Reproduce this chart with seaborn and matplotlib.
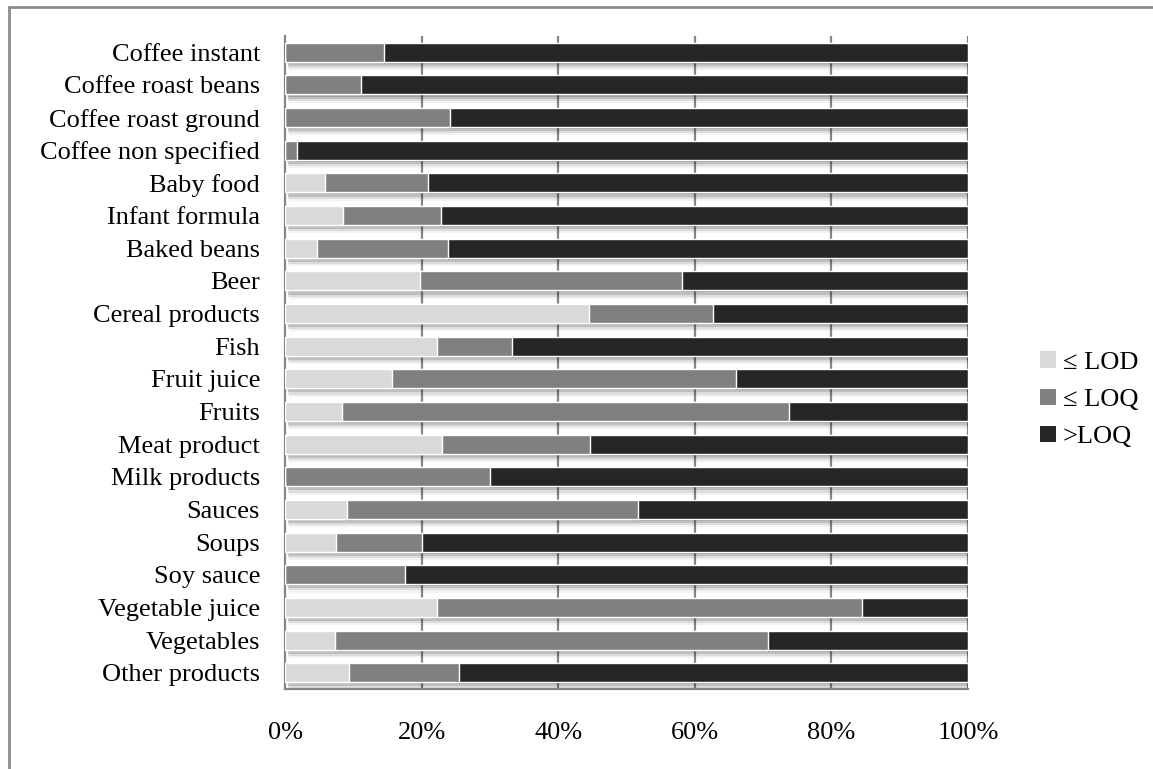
import matplotlib
matplotlib.use("Agg")
import matplotlib.pyplot as plt
import matplotlib.patheffects as pe
from matplotlib.lines import Line2D
from matplotlib.patches import Patch
import numpy as np
import pandas as pd
import seaborn as sns

categories = [
    "Coffee instant", "Coffee roast beans", "Coffee roast ground",
    "Coffee non specified", "Baby food", "Infant formula", "Baked beans",
    "Beer", "Cereal products", "Fish", "Fruit juice", "Fruits",
    "Meat product", "Milk products", "Sauces", "Soups", "Soy sauce",
    "Vegetable juice", "Vegetables", "Other products",
]
# share of samples (%) in each class
below_lod = [0.0, 0.0, 0.0, 0.0, 5.9, 8.5, 4.7, 19.8, 44.5, 22.2,
             15.7, 8.3, 23.0, 0.0, 9.1, 7.5, 0.0, 22.2, 7.3, 9.4]
below_loq = [14.5, 11.1, 24.2, 1.7, 15.1, 14.3, 19.1, 38.3, 18.1, 11.1,
             50.3, 65.5, 21.6, 30.0, 42.6, 12.6, 17.6, 62.3, 63.4, 16.1]
above_loq = [round(100.0 - a - b, 1) for a, b in zip(below_lod, below_loq)]

series_names = ["\u2264 LOD", "\u2264 LOQ", ">LOQ"]
series_colors = ["#d9d9d9", "#808080", "#262626"]
x_ticks = [0, 20, 40, 60, 80, 100]
x_tick_labels = ["0%", "20%", "40%", "60%", "80%", "100%"]

df = pd.DataFrame({
    "category": categories,
    "lod": below_lod,
    "loq": below_loq,
    "gt": above_loq,
})
df["cum_lod"] = df["lod"]
df["cum_loq"] = df["lod"] + df["loq"]
df["cum_all"] = df["lod"] + df["loq"] + df["gt"]

sns.set_style("white")
plt.rcParams["font.family"] = ["Liberation Serif", "DejaVu Serif"]
plt.rcParams["text.color"] = "black"
plt.rcParams["xtick.labelcolor"] = "black"
plt.rcParams["ytick.labelcolor"] = "black"
FS = 19

fig = plt.figure(figsize=(11.53, 7.69), dpi=100)
ax = fig.add_axes([0.2472, 0.104, 0.8396 - 0.2472, 0.9532 - 0.104])

grid_color = "#868686"
for v in x_ticks[1:]:
    ax.axvline(v, color=grid_color, lw=1.6, zorder=0)

# soft drop shadow under each bar
shadow = [
    pe.SimplePatchShadow(offset=(1.5, -1.5), shadow_rgbFace="#000000", alpha=0.16),
    pe.SimplePatchShadow(offset=(2.0, -3.0), shadow_rgbFace="#000000", alpha=0.13),
    pe.SimplePatchShadow(offset=(2.5, -4.5), shadow_rgbFace="#000000", alpha=0.09),
    pe.SimplePatchShadow(offset=(3.0, -6.0), shadow_rgbFace="#000000", alpha=0.05),
    pe.Normal(),
]

layers = [("cum_all", series_colors[2]), ("cum_loq", series_colors[1]),
          ("cum_lod", series_colors[0])]
for i, (col, color) in enumerate(layers):
    sns.barplot(data=df, x=col, y="category", orient="h", color=color,
                width=0.58, saturation=1, ax=ax, zorder=2 + i)
n = len(categories)
for patch in ax.patches[:n]:
    patch.set_path_effects(shadow)

ax.set_xlim(0, 100)
ax.set_ylim(n - 0.5, -0.5)
ax.set_xlabel("")
ax.set_ylabel("")

ax.set_xticks(x_ticks)
ax.set_xticklabels(x_tick_labels, fontsize=FS, color="black")
ax.tick_params(axis="x", direction="out", length=4.5, width=1.4,
               color=grid_color, pad=19)

ax.set_yticks(np.arange(-0.5, n, 1.0))
ax.set_yticklabels([])
ax.set_yticks(np.arange(n), minor=True)
ax.set_yticklabels(categories, minor=True, fontsize=FS, color="black")
ax.tick_params(axis="y", which="major", direction="out", length=6,
               width=1.4, color=grid_color)
ax.tick_params(axis="y", which="minor", length=0, pad=18)

for s in ["top", "right"]:
    ax.spines[s].set_visible(False)
for s in ["left", "bottom"]:
    ax.spines[s].set_color(grid_color)
    ax.spines[s].set_linewidth(1.6)

handles = [Patch(facecolor=c, edgecolor="none") for c in series_colors]
fig.legend(handles, series_names, loc="center left",
           bbox_to_anchor=(0.893, 0.48), frameon=False, fontsize=FS,
           handlelength=0.6, handleheight=0.6, handletextpad=0.25,
           labelspacing=0.55, borderaxespad=0, labelcolor="black")

# outer frame (top and left edges)
frame_color = "#8c8c8c"
fig.add_artist(Line2D([9 / 1153, 1.0], [1 - 7 / 769, 1 - 7 / 769],
                      transform=fig.transFigure, color=frame_color, lw=2))
fig.add_artist(Line2D([9 / 1153, 9 / 1153], [0.0, 1 - 7 / 769],
                      transform=fig.transFigure, color=frame_color, lw=2))

fig.savefig("out.png", dpi=100, facecolor="white")
